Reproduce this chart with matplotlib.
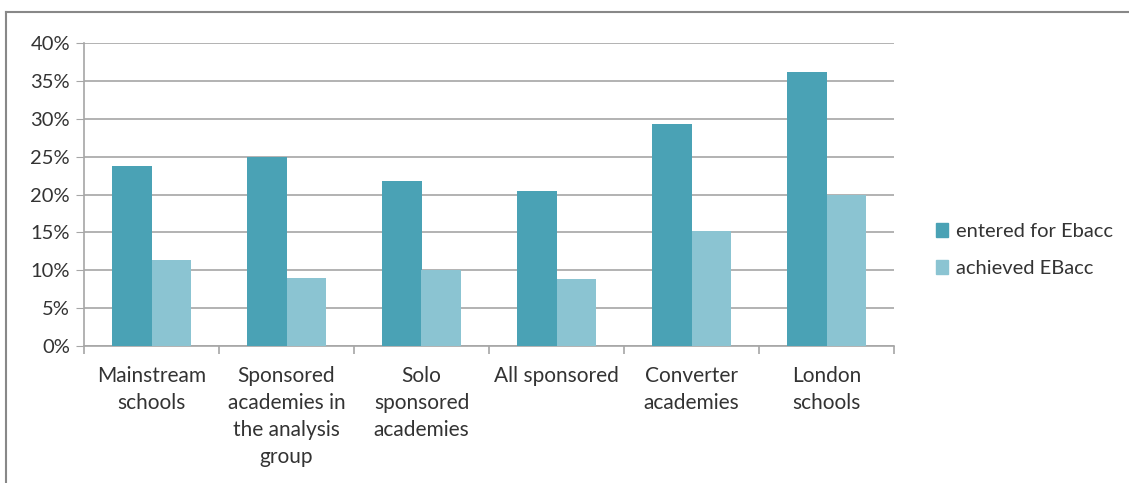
import numpy as np
import matplotlib
matplotlib.use("Agg")
import matplotlib.pyplot as plt
from matplotlib.patches import Rectangle
from matplotlib.lines import Line2D

# data
categories = ["Mainstream\nschools", "Sponsored\nacademies in\nthe analysis\ngroup",
              "Solo\nsponsored\nacademies", "All sponsored", "Converter\nacademies",
              "London\nschools"]
entered = [23.8, 25.0, 21.8, 20.4, 29.3, 36.2]
achieved = [11.3, 9.0, 10.0, 8.8, 15.2, 19.9]
series_names = ["entered for Ebacc", "achieved EBacc"]
yticks = [0, 5, 10, 15, 20, 25, 30, 35, 40]

c_entered = "#4aa2b5"
c_achieved = "#8bc4d2"
grid_col = "#a6a6a6"
txt_col = "#333333"

plt.rcParams['font.family'] = ['Lato', 'DejaVu Sans']

fig = plt.figure(figsize=(11.29, 4.83), dpi=100)
ax = fig.add_axes([84 / 1129, 1 - 346 / 483, (894 - 84) / 1129, (346 - 43) / 483])

x = np.arange(len(categories))
w = 0.289
ax.bar(x - w / 2, entered, w, color=c_entered, zorder=3, label=series_names[0])
ax.bar(x + w / 2, achieved, w, color=c_achieved, zorder=3, label=series_names[1])

ax.set_xlim(-0.5, len(categories) - 0.5)
ax.set_ylim(0, 40)
ax.set_yticks(yticks)
ax.set_yticklabels([f"{t}%" for t in yticks], fontsize=14.5, color=txt_col)
ax.yaxis.grid(True, color=grid_col, linewidth=1.2, zorder=0)
ax.tick_params(axis='y', length=6, color=grid_col, pad=4)

# category boundary ticks on the x axis
ax.set_xticks(np.arange(len(categories) + 1) - 0.5)
ax.set_xticklabels([])
ax.tick_params(axis='x', length=6, color=grid_col, width=1.2)
for i, lab in enumerate(categories):
    ax.text(i, -2.6, lab, ha="center", va="top", fontsize=15, color=txt_col,
            linespacing=1.44)

for s in ["top", "right"]:
    ax.spines[s].set_visible(False)
ax.spines["left"].set_color(grid_col)
ax.spines["bottom"].set_color(grid_col)
ax.spines["left"].set_linewidth(1.2)
ax.spines["bottom"].set_linewidth(1.2)

# legend
handles = [Rectangle((0, 0), 1, 1, color=c_entered), Rectangle((0, 0), 1, 1, color=c_achieved)]
fig.legend(handles, series_names, loc="center left", bbox_to_anchor=(918 / 1129, 1 - 250 / 483),
           frameon=False, fontsize=14.5, handlelength=0.6, handleheight=0.7,
           handletextpad=0.4, labelspacing=1.0, labelcolor=txt_col)

# outer frame (top and left visible)
fig.add_artist(Line2D([6 / 1129, 1], [1 - 12 / 483, 1 - 12 / 483], color="#888888", linewidth=1.5))
fig.add_artist(Line2D([6 / 1129, 6 / 1129], [0, 1 - 12 / 483], color="#888888", linewidth=1.5))

fig.savefig("out.png", dpi=100)
